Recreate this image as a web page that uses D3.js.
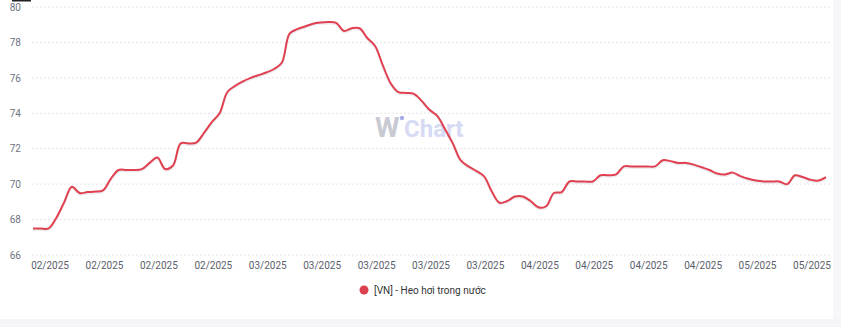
<!DOCTYPE html>
<html><head><meta charset="utf-8">
<script src="https://cdn.jsdelivr.net/npm/d3@7"></script>
<style>html,body{margin:0;padding:0;background:#fff;overflow:hidden}</style>
</head><body>
<svg id="c" width="841" height="327"></svg>
<script>
// Daily series starting 2025-02-01
const startDate = "2025-02-01";
const values = [
 67.5,67.5,67.5,68.1,68.97,69.85,69.5,69.55,69.58,69.65,
 70.3,70.8,70.8,70.8,70.85,71.2,71.5,70.85,71.05,72.3,
 72.3,72.35,72.9,73.5,74.0,75.2,75.55,75.8,76.0,76.15,
 76.3,76.5,76.85,78.5,78.75,78.9,79.05,79.12,79.15,79.1,
 78.65,78.8,78.8,78.25,77.8,76.7,75.7,75.2,75.15,75.1,
 74.7,74.2,73.85,73.1,72.3,71.35,71.0,70.75,70.45,69.6,
 68.95,69.05,69.3,69.3,69.05,68.7,68.75,69.5,69.55,70.15,
 70.15,70.15,70.15,70.5,70.5,70.55,71.0,71.0,71.0,71.0,
 71.0,71.35,71.3,71.2,71.2,71.1,70.95,70.8,70.6,70.55,
 70.65,70.45,70.3,70.2,70.15,70.15,70.15,70.0,70.5,70.4,
 70.25,70.2,70.4
];
const yTicks = [66,68,70,72,74,76,78,80];
const seriesName = "[VN] - Heo hơi trong nước";

const parse = d3.timeParse("%Y-%m-%d");
const t0 = parse(startDate);
const data = values.map((v,i)=>({date:d3.timeDay.offset(t0,i), v}));

const svg = d3.select("#c");
// frame strips
svg.append("rect").attr("x",833).attr("y",0).attr("width",8).attr("height",327).attr("fill","#f7f7f9");
svg.append("rect").attr("x",0).attr("y",319).attr("width",841).attr("height",8).attr("fill","#f5f5f7");
svg.append("rect").attr("x",12).attr("y",0).attr("width",19).attr("height",1.5).attr("fill","#222");

const x = d3.scaleTime().domain([data[0].date, data[data.length-1].date]).range([33,826]);
const y = d3.scaleLinear().domain([66,80]).range([255,7]);

// grid
svg.append("g").selectAll("line").data(yTicks).join("line")
 .attr("x1",32).attr("x2",832).attr("y1",d=>y(d)).attr("y2",d=>y(d))
 .attr("stroke","#e6e6ea").attr("stroke-width",1).attr("stroke-dasharray","2,2");

// y labels
const ya = svg.append("g").attr("transform","translate(21,0)")
 .call(d3.axisLeft(y).tickValues(yTicks).tickSize(0).tickPadding(0));
ya.select(".domain").remove();
ya.selectAll("text").attr("font-family","Roboto, sans-serif").attr("font-size",10).attr("fill","#6e7280");

// x labels
const xTicks = d3.timeMonday.range(parse("2025-02-02"), parse("2025-05-14"));
const xa = svg.append("g").attr("transform","translate(1,262)")
 .call(d3.axisBottom(x).tickValues(xTicks).tickFormat(d3.timeFormat("%m/%Y")).tickSize(0).tickPadding(0));
xa.select(".domain").remove();
xa.selectAll("text").attr("font-family","Roboto, sans-serif").attr("font-size",10).attr("fill","#5a5e6b");

// watermark
svg.append("text").attr("x",375).attr("y",137).attr("font-family","Roboto, sans-serif")
 .attr("font-weight","bold").attr("font-size",28).attr("fill","#c9cad3").text("W");
svg.append("text").attr("x",404).attr("y",137).attr("font-family","Roboto, sans-serif")
 .attr("font-weight","bold").attr("font-size",24).attr("fill","#d6daf3").text("Chart");
svg.append("circle").attr("cx",402).attr("cy",118).attr("r",2.2).attr("fill","#a5ade8");

// line
const line = d3.line().x(d=>x(d.date)).y(d=>y(d.v)).curve(d3.curveCatmullRom.alpha(0.5));
svg.append("path").datum(data).attr("d",line).attr("fill","none")
 .attr("stroke","#c9ccd6").attr("stroke-width",2).attr("opacity",0.35).attr("transform","translate(0,1.5)");
svg.append("path").datum(data).attr("d",line).attr("fill","none")
 .attr("stroke","#e0404f").attr("stroke-width",2);

// legend
svg.append("circle").attr("cx",364).attr("cy",290).attr("r",4.5).attr("fill","#dc3f4d");
svg.append("text").attr("x",374).attr("y",293.5).text(seriesName)
 .attr("font-family","Roboto, sans-serif").attr("font-size",10).attr("fill","#333");
</script>
</body></html>
